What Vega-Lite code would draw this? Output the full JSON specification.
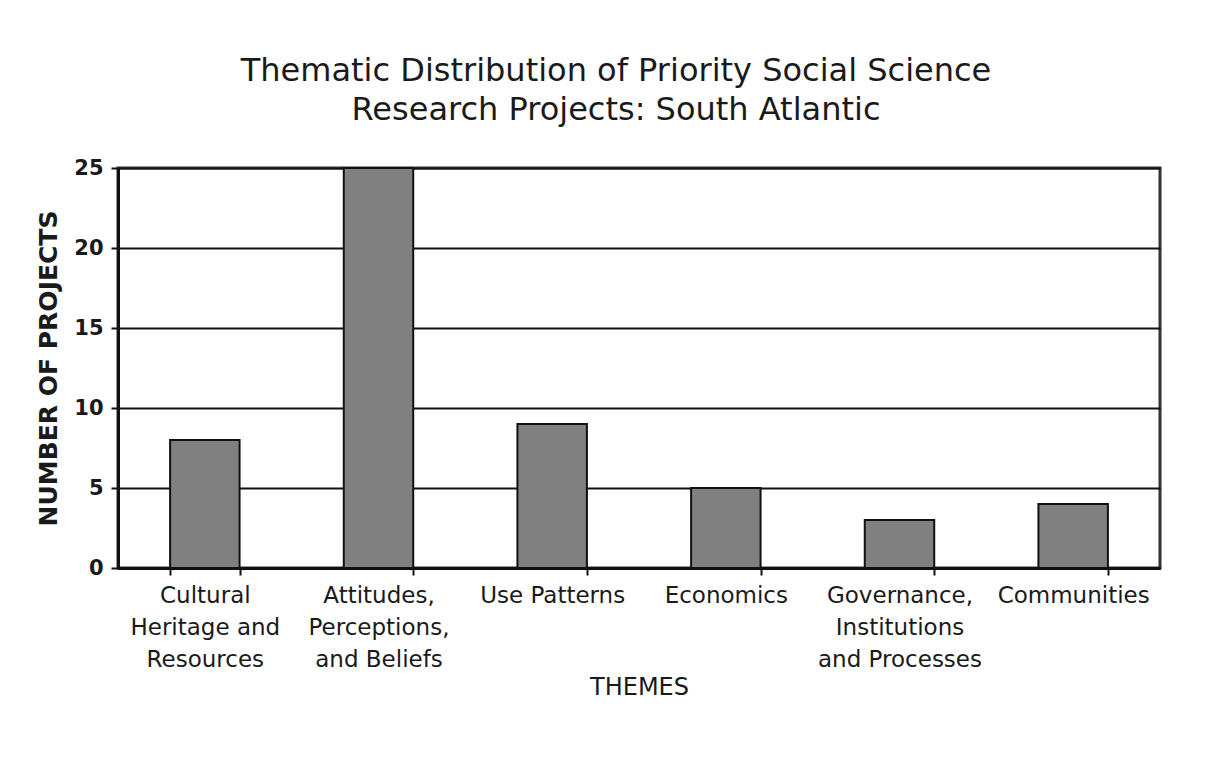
{
  "$schema": "https://vega.github.io/schema/vega-lite/v6.json",
  "width": 1042,
  "height": 400,
  "autosize": {"type": "none"},
  "padding": {"left": 118, "top": 168, "right": 61, "bottom": 211},
  "background": "white",
  "title": {
    "text": ["Thematic Distribution of Priority Social Science", "Research Projects: South Atlantic"],
    "font": "DejaVu Sans",
    "fontSize": 32,
    "fontWeight": "normal",
    "lineHeight": 39,
    "color": "#1a1a1a",
    "anchor": "middle",
    "dx": -23,
    "offset": 30
  },
  "data": {
    "values": [
      {"theme": "Cultural Heritage and Resources", "projects": 8},
      {"theme": "Attitudes, Perceptions, and Beliefs", "projects": 25},
      {"theme": "Use Patterns", "projects": 9},
      {"theme": "Economics", "projects": 5},
      {"theme": "Governance, Institutions and Processes", "projects": 3},
      {"theme": "Communities", "projects": 4}
    ]
  },
  "mark": {"type": "bar", "fill": "#808080", "stroke": "#111111", "strokeWidth": 2},
  "encoding": {
    "x": {
      "field": "theme",
      "type": "nominal",
      "sort": null,
      "scale": {"paddingInner": 0.6, "paddingOuter": 0.3},
      "axis": {
        "title": "THEMES",
        "titleFont": "DejaVu Sans",
        "titleFontSize": 24,
        "titleFontWeight": "normal",
        "titleColor": "#1a1a1a",
        "titlePadding": 4,
        "labelFont": "DejaVu Sans",
        "labelFontSize": 23,
        "labelColor": "#1a1a1a",
        "labelAngle": 0,
        "labelLineHeight": 32,
        "labelPadding": 9,
        "labelLimit": 0,
        "labelExpr": "datum.label == 'Cultural Heritage and Resources' ? ['Cultural', 'Heritage and', 'Resources'] : datum.label == 'Attitudes, Perceptions, and Beliefs' ? ['Attitudes,', 'Perceptions,', 'and Beliefs'] : datum.label == 'Governance, Institutions and Processes' ? ['Governance,', 'Institutions', 'and Processes'] : datum.label",
        "tickBand": "extent",
        "tickSize": 7,
        "tickColor": "#111111",
        "tickWidth": 2,
        "domainColor": "#111111",
        "domainWidth": 3
      }
    },
    "y": {
      "field": "projects",
      "type": "quantitative",
      "scale": {"domain": [0, 25], "nice": false},
      "axis": {
        "title": "NUMBER OF PROJECTS",
        "titleFont": "DejaVu Sans",
        "titleFontSize": 25,
        "titleFontWeight": "bold",
        "titleColor": "#1a1a1a",
        "titlePadding": 12,
        "labelFont": "DejaVu Sans",
        "labelFontSize": 21,
        "labelFontWeight": "bold",
        "labelColor": "#1a1a1a",
        "labelPadding": 8,
        "values": [0, 5, 10, 15, 20, 25],
        "tickSize": 7,
        "tickColor": "#111111",
        "tickWidth": 2,
        "grid": true,
        "gridColor": "#111111",
        "gridWidth": 2,
        "gridOpacity": 1,
        "domainColor": "#111111",
        "domainWidth": 3
      }
    }
  },
  "config": {
    "view": {"stroke": "#333333", "strokeWidth": 3}
  }
}
